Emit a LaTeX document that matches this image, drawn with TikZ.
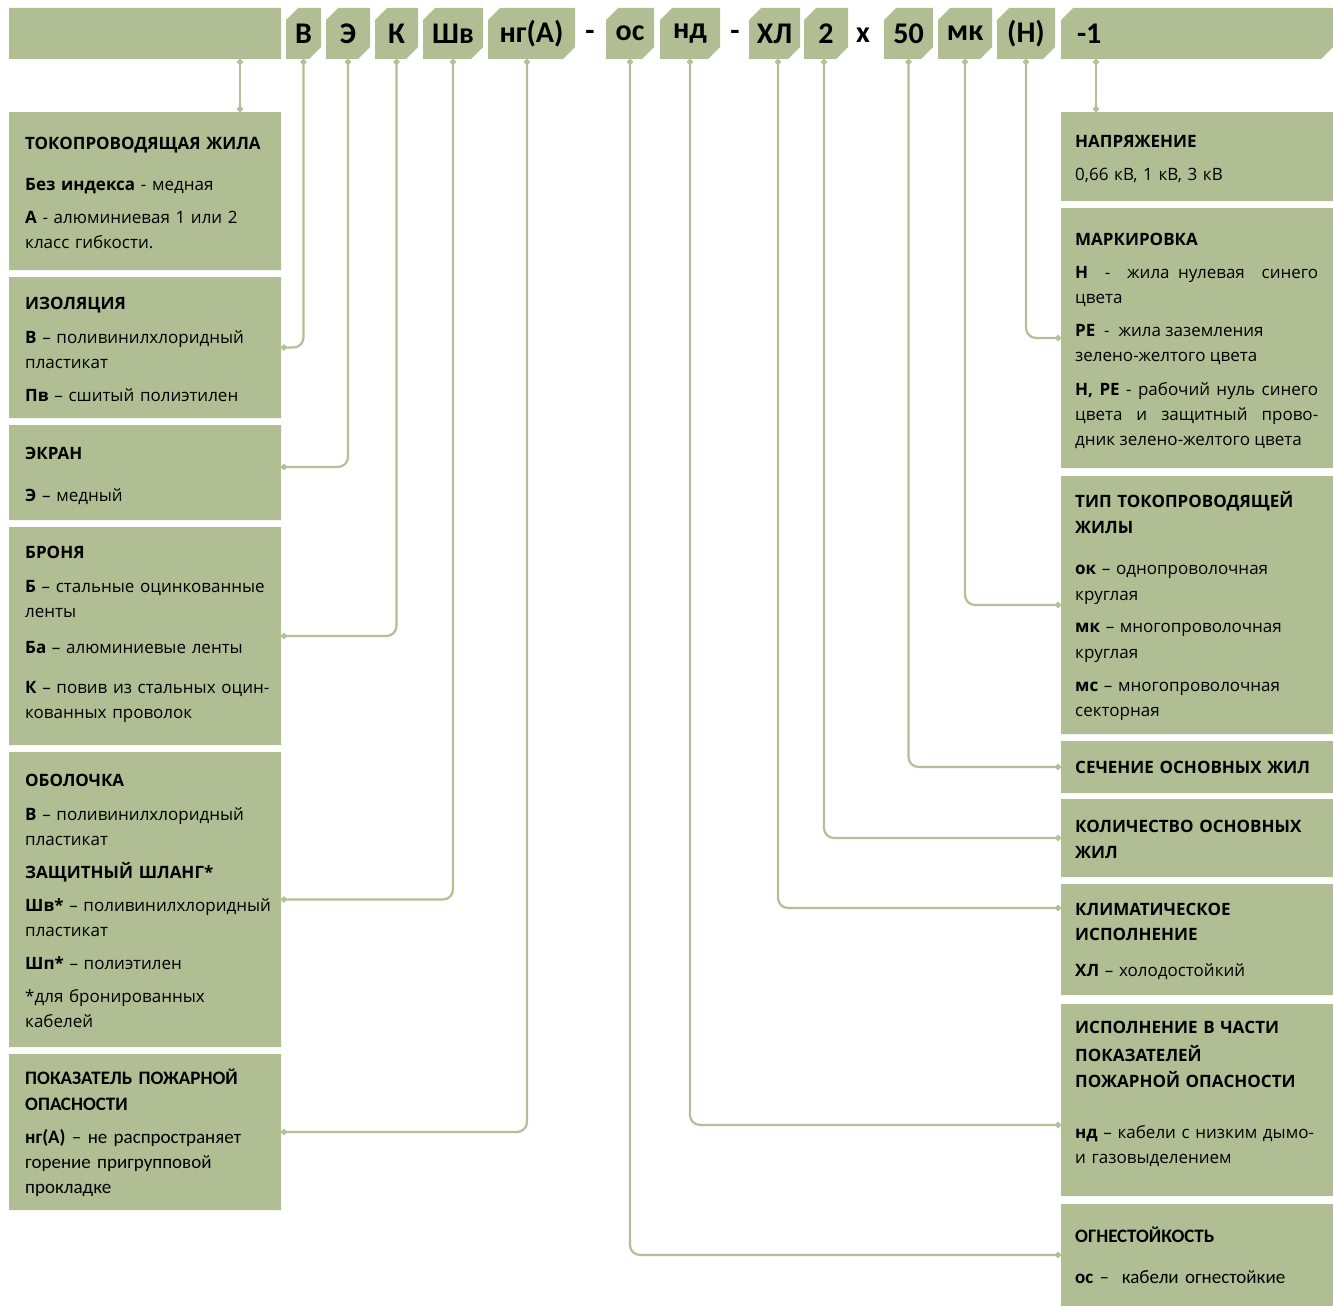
\documentclass[tikz,border=0pt]{standalone}
\usepackage{fontspec}
\setmainfont{Open Sans}
\newfontfamily\calfont{Carlito}
\usetikzlibrary{shapes.misc,arrows.meta,positioning}
\definecolor{panelgreen}{HTML}{B1BD92}
\definecolor{linkgreen}{HTML}{B4BF98}

\begin{document}
\begin{tikzpicture}[x=1pt, y=-1pt,
    % chamfered boxes
    panel/.style={chamfered rectangle, chamfered rectangle corners={north west,south east},
      chamfered rectangle xsep=6pt, chamfered rectangle ysep=6pt,
      fill=panelgreen, draw=none, inner sep=0pt, outer sep=0pt},
    side panel/.style={panel, minimum width=272pt},
    code box/.style={panel, minimum height=51pt, font=\calfont\bfseries\fontsize{30}{30}\selectfont},
    % texts inside the boxes
    note/.style={anchor=north west, inner sep=0pt, text width=250pt, align=left,
      font=\fontsize{17}{25}\selectfont},
    cal note/.style={note, font=\calfont\fontsize{19}{25}\selectfont},
    sep/.style={font=\calfont\bfseries\fontsize{30}{30}\selectfont},
    % connectors
    link/.style={draw=linkgreen, line width=2.2pt, rounded corners=10pt,
      {Circle[length=6pt]}-{Circle[length=6pt]}}
  ]
  \useasboundingbox (0,0) rectangle (1333,1306);

  % --- top row ---
  \node[code box, minimum width=272pt] (cTop) at (145,33.5) {};
  \node[code box, minimum width=35pt] (cV) at (303.5,33.5) {В};
  \node[code box, minimum width=44pt] (cE) at (348,33.5) {Э};
  \node[code box, minimum width=43pt] (cK) at (396.5,33.5) {К};
  \node[code box, minimum width=60pt] (cShv) at (453,33.5) {Шв};
  \node[code box, minimum width=87pt] (cNg) at (531.5,33.5) {нг(А)};
  \node[sep] (d1) at (590,35) {-};
  \node[code box, minimum width=48pt] (cOs) at (630,33.5) {ос};
  \node[code box, minimum width=60pt] (cNd) at (690,33.5) {нд};
  \node[sep] (d2) at (735,35) {-};
  \node[code box, minimum width=51pt] (cXL) at (774.5,33.5) {ХЛ};
  \node[code box, minimum width=44pt] (c2) at (826,33.5) {2};
  \node[sep] (times) at (863,35) {x};
  \node[code box, minimum width=49pt] (c50) at (908.5,33.5) {50};
  \node[code box, minimum width=54pt] (cMk) at (965,33.5) {мк};
  \node[code box, minimum width=58pt] (cN) at (1026,33.5) {(Н)};
  \node[code box, minimum width=272pt, text width=240pt, align=left] (cOne) at (1197,33.5) {-1};

  % --- left column ---
  \node[side panel, minimum height=158pt] (tok) at (145,191) {};
  \node[side panel, minimum height=141pt] (izol) at (145,347.5) {};
  \node[side panel, minimum height=95pt] (ekran) at (145,472.5) {};
  \node[side panel, minimum height=218pt] (bron) at (145,636) {};
  \node[side panel, minimum height=295pt] (obol) at (145,899.5) {};
  \node[side panel, minimum height=156pt] (pokaz) at (145,1132) {};

  \node[note] (tok-t) at (25,131.5) {\strut\textbf{ТОКОПРОВОДЯЩАЯ ЖИЛА}\\[16pt]
    \textbf{Без индекса} - медная\\[8pt]
    \textbf{А} - алюминиевая 1 или 2\\ класс гибкости.};
  \node[note] (izol-t) at (25,291.5) {\strut\textbf{ИЗОЛЯЦИЯ}\\[9pt]
    \textbf{В} – поливинилхлоридный\\ пластикат\\[8pt]
    \textbf{Пв} – сшитый полиэтилен};
  \node[note] (ekran-t) at (25,441.5) {\strut\textbf{ЭКРАН}\\[17pt]
    \textbf{Э} – медный};
  \node[note] (bron-t) at (25,540.5) {\strut\textbf{БРОНЯ}\\[9pt]
    \textbf{Б} – стальные оцинкованные\\ ленты\\[11pt]
    \textbf{Ба} – алюминиевые ленты\\[15pt]
    \textbf{К} – повив из стальных оцин-\\ кованных проволок};
  \node[note] (obol-t) at (25,768.5) {\strut\textbf{ОБОЛОЧКА}\\[9pt]
    \textbf{В} – поливинилхлоридный\\ пластикат\\[8pt]
    \textbf{ЗАЩИТНЫЙ ШЛАНГ*}\\[8pt]
    \textbf{Шв*} – поливинилхлоридный\\ пластикат\\[8pt]
    \textbf{Шп*} – полиэтилен\\[8pt]
    *для бронированных\\ кабелей};
  \node[cal note] (pokaz-t) at (25,1066.6) {\strut\textbf{ПОКАЗАТЕЛЬ ПОЖАРНОЙ}\\[1pt]
    \textbf{ОПАСНОСТИ}\\[8pt]
    \textbf{нг(А)} – не распространяет\\ горение пригрупповой\\ прокладке};

  % --- right column ---
  \node[side panel, minimum height=89pt] (napr) at (1197,156.5) {};
  \node[side panel, minimum height=260pt] (mark) at (1197,338) {};
  \node[side panel, minimum height=258pt] (tip) at (1197,605) {};
  \node[side panel, minimum height=52pt] (sech) at (1197,767) {};
  \node[side panel, minimum height=78pt] (kol) at (1197,838) {};
  \node[side panel, minimum height=111pt] (klim) at (1197,939.5) {};
  \node[side panel, minimum height=192pt] (ispoln) at (1197,1100) {};
  \node[side panel, minimum height=102pt] (ogne) at (1197,1255) {};

  \node[note] (napr-t) at (1075,129.5) {\strut\textbf{НАПРЯЖЕНИЕ}\\[8pt]
    0,66 кВ, 1 кВ, 3 кВ};
  \node[note, text width=243pt, align=justify] (mark-t) at (1075,227.5) {\strut\textbf{МАРКИРОВКА}\\[8pt]
    \textbf{Н} \ - \ жила нулевая \ синего\linebreak цвета\\[8pt]
    \textbf{PE} \ - \ жила заземления\\ зелено-желтого цвета\\[9pt]
    \textbf{Н, PE} - рабочий нуль синего\linebreak цвета и защитный прово-\linebreak дник зелено-желтого цвета};
  \node[note] (tip-t) at (1075,489.5) {\strut\textbf{ТИП ТОКОПРОВОДЯЩЕЙ}\\[1pt]
    \textbf{ЖИЛЫ}\\[16pt]
    \textbf{ок} – однопроволочная\\[1pt] круглая\\[7pt]
    \textbf{мк} – многопроволочная\\[1pt] круглая\\[8pt]
    \textbf{мс} – многопроволочная\\ секторная};
  \node[note] (sech-t) at (1075,755.5) {\strut\textbf{СЕЧЕНИЕ ОСНОВНЫХ ЖИЛ}};
  \node[note] (kol-t) at (1075,814.5) {\strut\textbf{КОЛИЧЕСТВО ОСНОВНЫХ}\\[1pt]
    \textbf{ЖИЛ}};
  \node[note] (klim-t) at (1075,897.5) {\strut\textbf{КЛИМАТИЧЕСКОЕ}\\
    \textbf{ИСПОЛНЕНИЕ}\\[11pt]
    \textbf{ХЛ} – холодостойкий};
  \node[note] (ispoln-t) at (1075,1015.5) {\strut\textbf{ИСПОЛНЕНИЕ В ЧАСТИ}\\[3pt]
    \textbf{ПОКАЗАТЕЛЕЙ}\\[1pt]
    \textbf{ПОЖАРНОЙ ОПАСНОСТИ}\\[26pt]
    \textbf{нд} – кабели с низким дымо-\\ и газовыделением};
  \node[cal note] (ogne-t) at (1075,1224.6) {\strut\textbf{ОГНЕСТОЙКОСТЬ}\\[16pt]
    \textbf{ос} – \ кабели огнестойкие};

  % --- connectors ---
  \draw[link] ([xshift=95pt]cTop.south) -- ([xshift=95pt]tok.north);
  \draw[link] (cV.south) |- (izol.east);
  \draw[link] (cE.south) |- ([yshift=5.5pt]ekran.east);
  \draw[link] (cK.south) |- (bron.east);
  \draw[link] (cShv.south) |- (obol.east);
  \draw[link] ([xshift=-4.5pt]cNg.south) |- (pokaz.east);
  \draw[link] (cOs.south) |- (ogne.west);
  \draw[link] (cNd.south) |- ([yshift=-25pt]ispoln.west);
  \draw[link] ([xshift=3.5pt]cXL.south) |- ([yshift=31.5pt]klim.west);
  \draw[link] ([xshift=-2pt]c2.south) |- (kol.west);
  \draw[link] (c50.south) |- (sech.west);
  \draw[link] (cMk.south) |- (tip.west);
  \draw[link] (cN.south) |- (mark.west);
  \draw[link] ([xshift=-101pt]cOne.south) -- ([xshift=-101pt]napr.north);
\end{tikzpicture}
\end{document}
